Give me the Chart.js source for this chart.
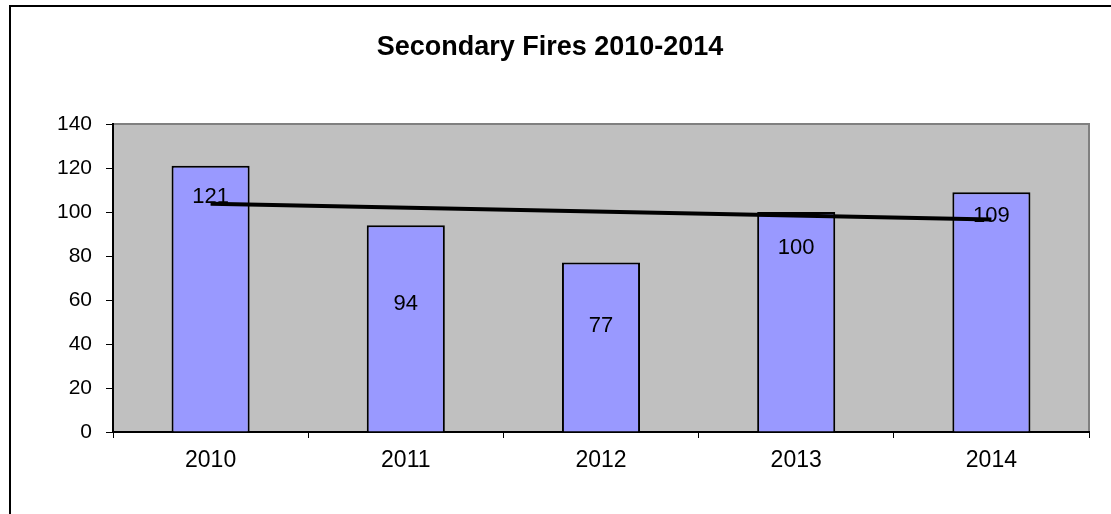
<!DOCTYPE html>
<html>
<head>
<meta charset="utf-8">
<script src="https://cdn.jsdelivr.net/npm/chart.js@4"></script>
<style>
  html, body { margin: 0; padding: 0; background: #fff; }
  #wrap { position: relative; width: 1111px; height: 514px; }
  #frame { position: absolute; left: 9px; top: 5px; width: 1110px; height: 520px;
           border-left: 2px solid #000; border-top: 2px solid #000; }
  canvas { position: absolute; left: 0; top: 0; }
</style>
</head>
<body>
<div id="wrap">
  <div id="frame"></div>
  <canvas id="chart" width="1111" height="514"></canvas>
</div>
<script>
const years = ['2010', '2011', '2012', '2013', '2014'];
const fires = [121, 94, 77, 100, 109];
const trend = [103.8, null, null, null, 96.6];

const font = 'Liberation Sans, Arial, sans-serif';

const plotBg = {
  id: 'plotBg',
  beforeDraw(chart) {
    const { ctx, chartArea: a } = chart;
    ctx.save();
    ctx.fillStyle = '#c0c0c0';
    ctx.fillRect(a.left, a.top, a.right - a.left, a.bottom - a.top);
    ctx.strokeStyle = '#808080';
    ctx.lineWidth = 2;
    ctx.beginPath();
    ctx.moveTo(a.left, a.top);
    ctx.lineTo(a.right, a.top);
    ctx.lineTo(a.right, a.bottom);
    ctx.stroke();
    ctx.restore();
  }
};

// value labels sit inside the bars (drawn before the trend line)
const barLabels = {
  id: 'barLabels',
  afterDatasetDraw(chart, args, opts) {
    if (args.index !== 0) return;
    const { ctx } = chart;
    const y = chart.scales.y;
    ctx.save();
    ctx.font = '22px ' + font;
    ctx.fillStyle = '#000';
    ctx.textAlign = 'center';
    ctx.textBaseline = 'middle';
    args.meta.data.forEach((bar, i) => {
      ctx.fillText(String(fires[i]), bar.x, y.getPixelForValue(opts.at[i]));
    });
    ctx.restore();
  }
};

const ctx = document.getElementById('chart').getContext('2d');
const chart = new Chart(ctx, {
  type: 'bar',
  data: {
    labels: years,
    datasets: [{
      type: 'bar',
      data: fires,
      backgroundColor: '#9999ff',
      borderColor: '#000',
      borderWidth: 2,
      barPercentage: 0.4,
      categoryPercentage: 1,
      order: 1
    }, {
      type: 'line',
      data: trend,
      spanGaps: true,
      borderColor: '#000',
      borderWidth: 4,
      pointRadius: 0,
      fill: false,
      order: 0
    }]
  },
  options: {
    responsive: false,
    animation: false,
    layout: { padding: { left: 11, right: 22, top: 0, bottom: 0 } },
    plugins: {
      legend: { display: false },
      tooltip: { enabled: false },
      title: {
        display: true,
        text: 'Secondary Fires 2010-2014',
        color: '#000',
        font: { family: font, size: 27, weight: 'bold', lineHeight: 1.2 },
        padding: { top: 31, bottom: 60.6 }
      },
      barLabels: { at: [107, 58.4, 48, 83.6, 98] }
    },
    scales: {
      x: {
        afterFit(s) { s.height = 82; },
        grid: { drawOnChartArea: false, tickLength: 6, color: '#000', offset: true },
        border: { color: '#000', width: 2 },
        ticks: { color: '#000', padding: 9, font: { family: font, size: 23 } }
      },
      y: {
        min: 0,
        max: 140,
        afterFit(s) { s.width = 102; },
        grid: { drawOnChartArea: false, tickLength: 7, color: '#000' },
        border: { color: '#000', width: 2 },
        ticks: { stepSize: 20, color: '#000', padding: 14, font: { family: font, size: 21 } }
      }
    }
  },
  plugins: [plotBg, barLabels]
});
</script>
</body>
</html>
